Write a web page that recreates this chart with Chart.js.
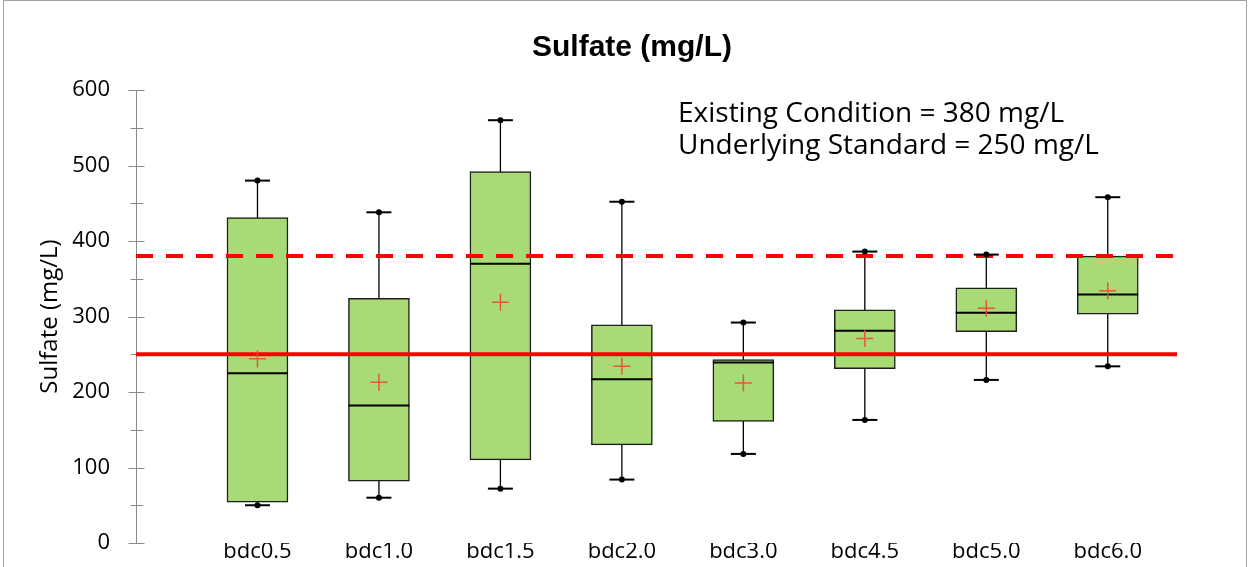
<!DOCTYPE html>
<html>
<head>
<meta charset="utf-8">
<script src="https://cdn.jsdelivr.net/npm/chart.js@4.4.1/dist/chart.umd.min.js"></script>
<style>
  html, body { margin: 0; padding: 0; background: #fff; }
  #wrap { width: 1250px; height: 567px; position: relative; }
</style>
</head>
<body>
<div id="wrap"><canvas id="c" width="1250" height="567"></canvas></div>
<script>
// Sulfate concentrations per location (mg/L): box-plot statistics
const categories   = ['bdc0.5', 'bdc1.0', 'bdc1.5', 'bdc2.0', 'bdc3.0', 'bdc4.5', 'bdc5.0', 'bdc6.0'];
const minValues    = [50, 60, 72, 84, 118, 163, 216, 234];
const q1Values     = [54, 82, 110, 130, 161, 231, 280, 303];
const medianValues = [225, 182, 370, 217, 239, 281, 305, 329];
const q3Values     = [431, 324, 492, 289, 243, 309, 338, 380];
const maxValues    = [480, 438, 560, 452, 292, 386, 382, 458];
const meanValues   = [244, 213, 319, 234, 212, 271, 311, 334];

// Reference levels (mg/L)
const existingCondition  = 380;
const underlyingStandard = 250;

// Y axis range and tick spacing
const yMin = 0;
const yMax = 600;
const yMajorStep = 100;
const yMinorStep = 50;

// X axis: category slots placed at 1..n on a linear scale
const xMin = 0;
const xMax = 8.57;

const xOf = i => i + 1;
const boxData     = categories.map((c, i) => ({ x: xOf(i), y: [q1Values[i], q3Values[i]] }));
const whiskerData = [];
categories.forEach((c, i) => {
  whiskerData.push({ x: xOf(i), y: minValues[i] });
  whiskerData.push({ x: xOf(i), y: maxValues[i] });
  whiskerData.push({ x: xOf(i), y: null });
});
const medianData = categories.map((c, i) => ({ x: xOf(i), y: medianValues[i] }));
const endData    = categories.flatMap((c, i) => [{ x: xOf(i), y: minValues[i] }, { x: xOf(i), y: maxValues[i] }]);
const meanData   = categories.map((c, i) => ({ x: xOf(i), y: meanValues[i] }));

const FONT = "'Open Sans', 'DejaVu Sans', sans-serif";

// Frame, y-axis line with major/minor ticks, title and notes
const decorations = {
  id: 'decorations',
  beforeDraw(chart) {
    const { ctx, width, height } = chart;
    ctx.save();
    ctx.fillStyle = '#ffffff';
    ctx.fillRect(0, 0, width, height);
    ctx.strokeStyle = '#a0a0a0';
    ctx.lineWidth = 1;
    ctx.beginPath();
    ctx.moveTo(3.5, height + 2);
    ctx.lineTo(3.5, 0.5);
    ctx.lineTo(width - 3.5, 0.5);
    ctx.lineTo(width - 3.5, height + 2);
    ctx.stroke();
    ctx.restore();
  },
  beforeDatasetsDraw(chart) {
    const { ctx, chartArea } = chart;
    const y = chart.scales.y;
    const ax = Math.round(chartArea.left) + 0.5;
    ctx.save();
    ctx.strokeStyle = '#8a8a8a';
    ctx.lineWidth = 1;
    ctx.beginPath();
    ctx.moveTo(ax, y.getPixelForValue(yMin));
    ctx.lineTo(ax, y.getPixelForValue(yMax));
    for (let v = yMin; v <= yMax; v += yMinorStep) {
      const py = Math.round(y.getPixelForValue(v)) + 0.5;
      const major = v % yMajorStep === 0;
      ctx.moveTo(ax - (major ? 8 : 6), py);
      ctx.lineTo(ax + (major ? 8 : 7), py);
    }
    ctx.stroke();
    ctx.restore();
  },
  afterDraw(chart) {
    const { ctx } = chart;
    ctx.save();
    ctx.fillStyle = '#000';
    ctx.textAlign = 'center';
    ctx.textBaseline = 'alphabetic';
    ctx.font = "bold 30px 'Liberation Sans', Arial, sans-serif";
    ctx.fillText('Sulfate (mg/L)', 632, 56);
    ctx.textAlign = 'left';
    ctx.font = '28px ' + FONT;
    ctx.fillText('Existing Condition = ' + existingCondition + ' mg/L', 678, 122);
    ctx.fillText('Underlying Standard = ' + underlyingStandard + ' mg/L', 678, 154);
    ctx.restore();
  }
};

new Chart(document.getElementById('c'), {
  type: 'scatter',
  data: {
    datasets: [
      {
        type: 'scatter', label: 'Mean', data: meanData, order: 0,
        pointStyle: 'cross', radius: 8.5, borderWidth: 1.5,
        borderColor: 'rgba(238,72,52,0.9)', backgroundColor: 'rgba(238,72,52,0.9)'
      },
      {
        type: 'scatter', label: 'Whisker end', data: endData, order: 1,
        pointStyle: 'circle', radius: 3, borderWidth: 0, backgroundColor: '#000'
      },
      {
        type: 'scatter', label: 'Whisker cap', data: endData, order: 2,
        pointStyle: 'line', radius: 12.5, borderWidth: 2, borderColor: '#000'
      },
      {
        type: 'line', label: 'Existing Condition', order: 3,
        data: [{ x: xMin, y: existingCondition }, { x: xMax, y: existingCondition }],
        borderColor: '#ff0000', borderWidth: 4, borderDash: [17, 13], borderCapStyle: 'butt',
        pointRadius: 0, fill: false
      },
      {
        type: 'line', label: 'Underlying Standard', order: 3,
        data: [{ x: xMin, y: underlyingStandard }, { x: xMax, y: underlyingStandard }],
        borderColor: '#ff0000', borderWidth: 4, pointRadius: 0, fill: false
      },
      {
        type: 'scatter', label: 'Median', data: medianData, order: 4,
        pointStyle: 'line', radius: 30.5, borderWidth: 2, borderColor: '#000'
      },
      {
        type: 'bar', label: 'Interquartile range', data: boxData, order: 5,
        grouped: false, barThickness: 61,
        backgroundColor: 'rgb(168,218,118)', borderColor: '#1e1e1e',
        borderWidth: 1.5, borderSkipped: false
      },
      {
        type: 'line', label: 'Whisker', data: whiskerData, order: 6,
        borderColor: '#000', borderWidth: 1.3, pointRadius: 0, spanGaps: false, fill: false
      }
    ]
  },
  options: {
    responsive: false,
    animation: false,
    devicePixelRatio: 1,
    layout: { autoPadding: false, padding: { left: 0, right: 73, top: 90, bottom: 0 } },
    plugins: { legend: { display: false }, tooltip: { enabled: false }, title: { display: false } },
    scales: {
      x: {
        type: 'linear', min: xMin, max: xMax, offset: false,
        grid: { display: false, drawTicks: false },
        border: { display: false },
        ticks: {
          stepSize: 1, includeBounds: false, autoSkip: false, maxRotation: 0,
          padding: -2, color: '#000',
          font: { family: FONT, size: 22, lineHeight: 1 },
          callback: v => (Number.isInteger(v) && v >= 1 && v <= categories.length) ? categories[v - 1] : ''
        },
        afterFit: s => {
          s.height = 24;
          s.paddingLeft = 0; s.paddingRight = 0; s.paddingTop = 0; s.paddingBottom = 0;
        }
      },
      y: {
        type: 'linear', min: yMin, max: yMax,
        grid: { display: false, drawTicks: false },
        border: { display: false },
        ticks: {
          stepSize: yMajorStep, padding: 26, color: '#000',
          font: { family: FONT, size: 22 }
        },
        title: {
          display: true, text: 'Sulfate (mg/L)', color: '#000',
          font: { family: FONT, size: 24 },
          padding: { top: 36, bottom: 0 }
        },
        afterFit: s => {
          s.width = 136;
          s.paddingLeft = 0; s.paddingRight = 0; s.paddingTop = 0; s.paddingBottom = 0;
        }
      }
    }
  },
  plugins: [decorations]
});
</script>
</body>
</html>
